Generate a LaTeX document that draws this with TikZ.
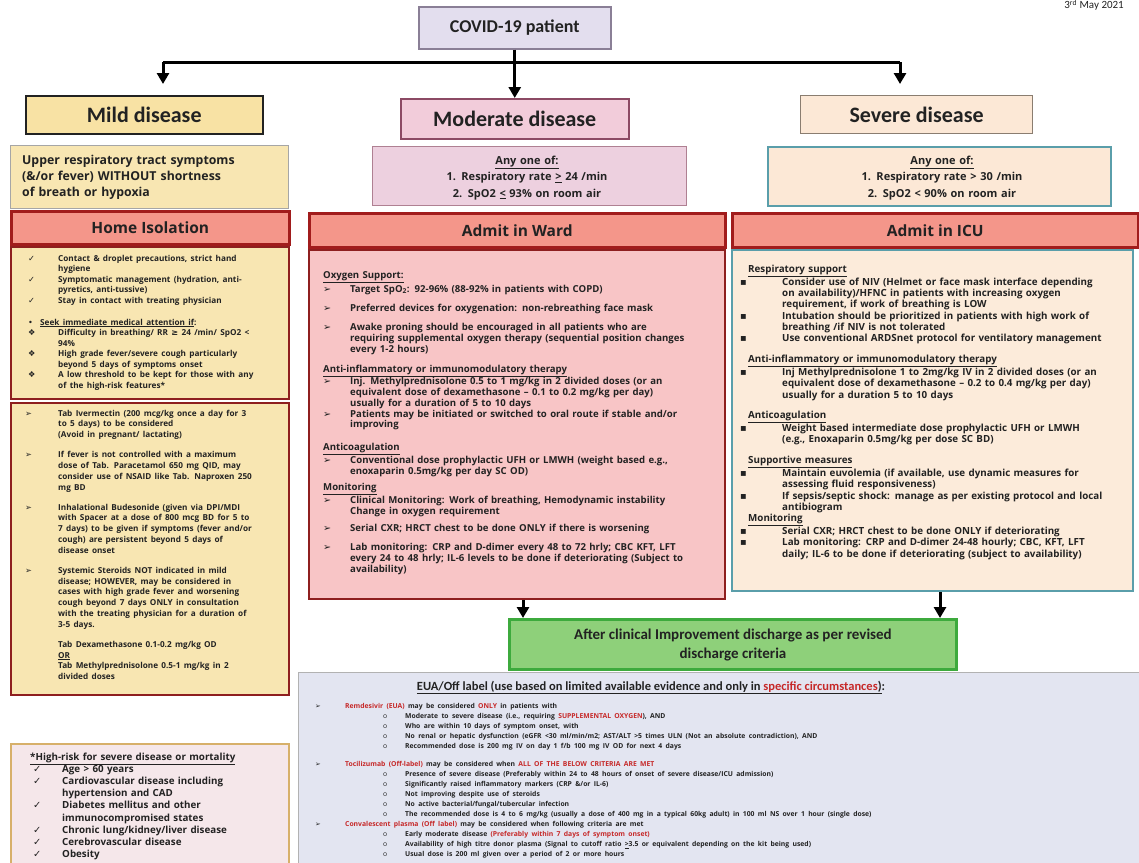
\documentclass[tikz,border=0pt]{standalone}
\usepackage{fontspec}
\setmainfont{Open Sans}
\newfontfamily\calf{Carlito}
\newfontfamily\dvs{DejaVu Sans}
\usetikzlibrary{arrows.meta}
\definecolor{covidfill}{HTML}{E3DEEE}
\definecolor{covidline}{HTML}{8A7F96}
\definecolor{mildfill}{HTML}{F8E2A4}
\definecolor{modfill}{HTML}{F2CCDA}
\definecolor{modline}{HTML}{8C4A64}
\definecolor{sevfill}{HTML}{FCE8D6}
\definecolor{sevline}{HTML}{8A7D70}
\definecolor{critmild}{HTML}{F8E6B2}
\definecolor{critmod}{HTML}{EDD0DF}
\definecolor{tealline}{HTML}{5A9EAA}
\definecolor{redfill}{HTML}{F4968A}
\definecolor{redline}{HTML}{A11C1C}
\definecolor{bodyred}{HTML}{8E1F1F}
\definecolor{wardfill}{HTML}{F8C5C6}
\definecolor{icufill}{HTML}{FCEBDA}
\definecolor{greenfill}{HTML}{8ED07A}
\definecolor{greenline}{HTML}{3DAA3D}
\definecolor{euafill}{HTML}{E3E5F1}
\definecolor{riskfill}{HTML}{F5E7EA}
\definecolor{riskline}{HTML}{D7B06A}
\definecolor{redtext}{HTML}{C62828}
\definecolor{ink}{HTML}{222222}
\newlength\hind \newlength\sind \newlength\hdind
\newcommand\fsz[2]{\fontsize{#1}{#2}\selectfont}
\newcommand\itmb[2]{\hangindent=\hind\hangafter=1\noindent\hbox to \hind{\hskip\sind{\dvs\mdseries #1}\hfil}{\let\\\newline #2}}
\newcommand\itm{\par\itmb}
\newcommand\gap[1]{\par\vspace{#1pt}}
\newcommand\hdrb[1]{\noindent\hskip\hdind\underline{#1}}
\newcommand\hdr{\par\hdrb}
\newcommand\eitemb[1]{\noindent\hbox to 30pt{{\dvs\mdseries ➢}\hfil}#1}
\newcommand\eitem{\par\eitemb}
\newcommand\esub[1]{\par\noindent\hbox to 90pt{\hskip68pt{\mdseries o}\hfil}#1}
\newcommand\rt[1]{\textcolor{redtext}{#1}}
\tikzset{
  box/.style={draw, rectangle, inner sep=0pt, anchor=north west, text=ink},
  txt/.style={anchor=base west, inner sep=0pt, text=ink},
  ctxt/.style={anchor=base, inner sep=0pt, align=center, text=ink},
  arr/.style={line width=3pt, -{Triangle[length=11pt,width=12pt]}},
  trunk/.style={line width=3pt},
  bigtitle/.style={font=\calf\bfseries\fsz{22}{24}},
  redhead/.style={box, draw=redline, fill=redfill, line width=2.5pt, font=\bfseries\fsz{15.5}{18}},
}
\begin{document}
\begin{tikzpicture}[x=1pt,y=-1pt]
\useasboundingbox (0,0) rectangle (1139,862);
\fill[white] (0,0) rectangle (1139,862);

% date
\node[anchor=base east, inner sep=0pt, text=ink, font=\calf\fsz{11}{12}] (date) at (1124,9) {3\textsuperscript{rd} May 2021};

% top level
\node[box, draw=covidline, fill=covidfill, line width=1.5pt, minimum width=192, minimum height=42, font=\calf\bfseries\fsz{18}{20}] (covid) at (418,6) {COVID-19 patient};
\node[box, draw=ink, fill=mildfill, line width=1.5pt, minimum width=237, minimum height=38, bigtitle] (mild) at (25,95) {Mild disease};
\node[box, draw=modline, fill=modfill, line width=1.5pt, minimum width=228, minimum height=40, bigtitle] (mod) at (400,98) {Moderate disease};
\node[box, draw=sevline, fill=sevfill, line width=1.2pt, minimum width=232, minimum height=38, bigtitle] (sev) at (800,95) {Severe disease};

\coordinate (hl) at (163,62);
\coordinate (hr) at (900,62);
\draw[trunk] (hl) -- (hr);
\draw[arr] (hl) -- ++(0,22);
\draw[arr] (hr) -- ++(0,22);
\draw[arr] (covid.south) -- (mod.north);

% criteria boxes
\node[box, draw=gray!70, fill=critmild, line width=1pt, minimum width=278, minimum height=63] (critm) at (10,145) {};
\node[anchor=base west, inner sep=0pt, text=ink, align=left, text width=272, font=\bfseries\fsz{12.3}{16}] (critmt) at (22,164) {Upper respiratory tract symptoms\\(\&/or fever) WITHOUT shortness\\of breath or hypoxia};

\node[box, draw=modline!70, fill=critmod, line width=1pt, minimum width=314, minimum height=59] (critmo) at (372,146) {};
\node[ctxt, text width=300, font=\bfseries\fsz{11}{16.5}] (critmot) at (527,164) {\underline{Any one of:}\\1. Respiratory rate \underline{>} 24 /min\\2. SpO2 \underline{<} 93\% on room air};

\node[box, draw=tealline, fill=sevfill, line width=1.5pt, minimum width=343, minimum height=59] (crits) at (767,146) {};
\node[ctxt, text width=330, font=\bfseries\fsz{11}{16.5}] (critst) at (942,164) {\underline{Any one of:}\\1. Respiratory rate > 30 /min\\2. SpO2 < 90\% on room air};

% red headers
\node[redhead, minimum width=278, minimum height=33] (home) at (10,210) {Home Isolation};
\node[redhead, minimum width=416, minimum height=34] (wardh) at (308,212) {Admit in Ward};
\node[redhead, minimum width=406, minimum height=34] (icuh) at (731,212) {Admit in ICU};

% left column bodies
\node[box, draw=bodyred, fill=critmild, line width=2pt, minimum width=278, minimum height=152] (left1) at (10,246) {};
\node[txt, text width=275] (left1t) at (18,261) {\fsz{8.2}{10.5}\bfseries\setlength\hind{40pt}\setlength\sind{10pt}%
\itmb{✓}{Contact \& droplet precautions, strict hand\\hygiene}
\itm{✓}{Symptomatic management (hydration, anti-\\pyretics, anti-tussive)}
\itm{✓}{Stay in contact with treating physician}\gap{11.5}
\noindent\hbox to 22pt{\hskip10pt{\dvs\mdseries •}\hfil}\underline{Seek immediate medical attention if}:
\itm{❖}{Difficulty in breathing/ RR {\dvs ≥} 24 /min/ SpO2 <\\94\%}
\itm{❖}{High grade fever/severe cough particularly\\beyond 5 days of symptoms onset}
\itm{❖}{A low threshold to be kept for those with any\\of the high-risk features*}\par};

\node[box, draw=bodyred, fill=critmild, line width=2pt, minimum width=278, minimum height=292] (left2) at (10,402) {};
\node[txt, text width=275] (left2t) at (18,416) {\fsz{8.2}{10.8}\bfseries\setlength\hind{40pt}\setlength\sind{7pt}%
\itmb{➢}{Tab Ivermectin (200 mcg/kg once a day for 3\\to 5 days) to be considered\\(Avoid in pregnant/ lactating)}\gap{9.2}
\itm{➢}{If fever is not controlled with a maximum\\dose of Tab. Paracetamol 650 mg QID, may\\consider use of NSAID like Tab. Naproxen 250\\mg BD}\gap{9.2}
\itm{➢}{Inhalational Budesonide (given via DPI/MDI\\with Spacer at a dose of 800 mcg BD for 5 to\\7 days) to be given if symptoms (fever and/or\\cough) are persistent beyond 5 days of\\disease onset}\gap{9.2}
\itm{➢}{Systemic Steroids NOT indicated in mild\\disease; HOWEVER, may be considered in\\cases with high grade fever and worsening\\cough beyond 7 days ONLY in consultation\\with the treating physician for a duration of\\3-5 days.}\gap{9.2}
\noindent\hskip40pt Tab Dexamethasone 0.1-0.2 mg/kg OD
\par\noindent\hskip40pt\underline{OR}
\par\noindent\hskip40pt Tab Methylprednisolone 0.5-1 mg/kg in 2
\par\noindent\hskip40pt divided doses\par};

% high risk
\node[box, draw=riskline, fill=riskfill, line width=2pt, minimum width=278, minimum height=125] (risk) at (10,743) {};
\node[txt, text width=275] (riskt) at (30,760.5) {\fsz{9.8}{12.1}\bfseries\setlength\hind{32pt}\setlength\sind{3pt}%
\underline{*High-risk for severe disease or mortality}
\itm{✓}{Age > 60 years}
\itm{✓}{Cardiovascular disease including\\hypertension and CAD}
\itm{✓}{Diabetes mellitus and other\\immunocompromised states}
\itm{✓}{Chronic lung/kidney/liver disease}
\itm{✓}{Cerebrovascular disease}
\itm{✓}{Obesity}\par};

% ward body
\node[box, draw=bodyred, fill=wardfill, line width=2pt, minimum width=416, minimum height=349] (ward) at (308,249) {};
\node[txt, text width=420] (wardt) at (323,278.5) {\fsz{9.6}{10.8}\bfseries\setlength\hind{27pt}\setlength\sind{0pt}%
\underline{Oxygen Support:}\gap{1}
\itmb{➢}{Target SpO\textsubscript{2}: 92-96\% (88-92\% in patients with COPD)}\gap{9}
\itmb{➢}{Preferred devices for oxygenation: non-rebreathing face mask}\gap{8}
\itmb{➢}{Awake proning should be encouraged in all patients who are\\requiring supplemental oxygen therapy (sequential position changes\\every 1-2 hours)}\gap{9}
\noindent\underline{Anti-inflammatory or immunomodulatory therapy}
\itm{➢}{Inj. Methylprednisolone 0.5 to 1 mg/kg in 2 divided doses (or an\\equivalent dose of dexamethasone -- 0.1 to 0.2 mg/kg per day)\\usually for a duration of 5 to 10 days}
\itm{➢}{Patients may be initiated or switched to oral route if stable and/or\\improving}\gap{12}
\noindent\underline{Anticoagulation}
\itm{➢}{Conventional dose prophylactic UFH or LMWH (weight based e.g.,\\enoxaparin 0.5mg/kg per day SC OD)}\gap{6}
\noindent\underline{Monitoring}\par
\itmb{➢}{Clinical Monitoring: Work of breathing, Hemodynamic instability\\Change in oxygen requirement}\gap{6}
\itmb{➢}{Serial CXR; HRCT chest to be done ONLY if there is worsening}\gap{9}
\itmb{➢}{Lab monitoring: CRP and D-dimer every 48 to 72 hrly; CBC KFT, LFT\\every 24 to 48 hrly; IL-6 levels to be done if deteriorating (Subject to\\availability)}\par};

% ICU body
\node[box, draw=tealline, fill=icufill, line width=2pt, minimum width=401, minimum height=341] (icu) at (731,249) {};
\node[txt, text width=400] (icut) at (738,272.5) {\fsz{9.8}{11.3}\bfseries\setlength\hind{44pt}\setlength\sind{2pt}\setlength\hdind{10pt}%
\hdrb{Respiratory support}
\itm{▪}{Consider use of NIV (Helmet or face mask interface depending\\on availability)/HFNC in patients with increasing oxygen\\requirement, if work of breathing is LOW}
\itm{▪}{Intubation should be prioritized in patients with high work of\\breathing /if NIV is not tolerated}
\itm{▪}{Use conventional ARDSnet protocol for ventilatory management}\gap{9.5}
\hdrb{Anti-inflammatory or immunomodulatory therapy}
\itm{▪}{Inj Methylprednisolone 1 to 2mg/kg IV in 2 divided doses (or an\\equivalent dose of dexamethasone -- 0.2 to 0.4 mg/kg per day)\\usually for a duration 5 to 10 days}\gap{9.5}
\hdrb{Anticoagulation}
\itm{▪}{Weight based intermediate dose prophylactic UFH or LMWH\\(e.g., Enoxaparin 0.5mg/kg per dose SC BD)}\gap{9.5}
\hdrb{Supportive measures}
\itm{▪}{Maintain euvolemia (if available, use dynamic measures for\\assessing fluid responsiveness)}
\itm{▪}{If sepsis/septic shock: manage as per existing protocol and local\\antibiogram}
\hdr{Monitoring}
\itm{▪}{Serial CXR; HRCT chest to be done ONLY if deteriorating}
\itm{▪}{Lab monitoring: CRP and D-dimer 24-48 hourly; CBC, KFT, LFT\\daily; IL-6 to be done if deteriorating (subject to availability)}\par};

% discharge
\node[box, draw=greenline, fill=greenfill, line width=3pt, minimum width=447, minimum height=50, align=center, font=\calf\bfseries\fsz{15}{19}] (disc) at (508,618) {After clinical Improvement discharge as per revised\\discharge criteria};
\draw[arr] (ward.south -| 523,0) -- (disc.north -| 523,0);
\draw[arr] (icu.south -| 940,0) -- (disc.north -| 940,0);

% EUA box
\node[box, draw=gray!60, fill=euafill, line width=1pt, minimum width=845, minimum height=195] (eua) at (298,672) {};
\node[ctxt, font=\calf\bfseries\fsz{12.5}{14}] (euah) at (651,690) {\underline{EUA/Off label (use based on limited available evidence and only in \rt{specific circumstances})}:};
\node[txt, text width=820] (euat) at (315,708.5) {\fsz{6.8}{10}\bfseries%
\eitemb{\rt{Remdesivir (EUA)} may be considered \rt{ONLY} in patients with}
\esub{Moderate to severe disease (i.e., requiring \rt{SUPPLEMENTAL OXYGEN}), AND}
\esub{Who are within 10 days of symptom onset, with}
\esub{No renal or hepatic dysfunction (eGFR <30 ml/min/m2; AST/ALT >5 times ULN (Not an absolute contradiction), AND}
\esub{Recommended dose is 200 mg IV on day 1 f/b 100 mg IV OD for next 4 days}\gap{8}
\eitemb{\rt{Tocilizumab (Off-label)} may be considered when \rt{ALL OF THE BELOW CRITERIA ARE MET}}
\esub{Presence of severe disease (Preferably within 24 to 48 hours of onset of severe disease/ICU admission)}
\esub{Significantly raised inflammatory markers (CRP \&/or IL-6)}
\esub{Not improving despite use of steroids}
\esub{No active bacterial/fungal/tubercular infection}
\esub{The recommended dose is 4 to 6 mg/kg (usually a dose of 400 mg in a typical 60kg adult) in 100 ml NS over 1 hour (single dose)}
\eitem{\rt{Convalescent plasma (Off label)} may be considered when following criteria are met}
\esub{Early moderate disease \rt{(Preferably within 7 days of symptom onset)}}
\esub{Availability of high titre donor plasma (Signal to cutoff ratio \underline{>}3.5 or equivalent depending on the kit being used)}
\esub{Usual dose is 200 ml given over a period of 2 or more hours}\par};
\end{tikzpicture}
\end{document}
